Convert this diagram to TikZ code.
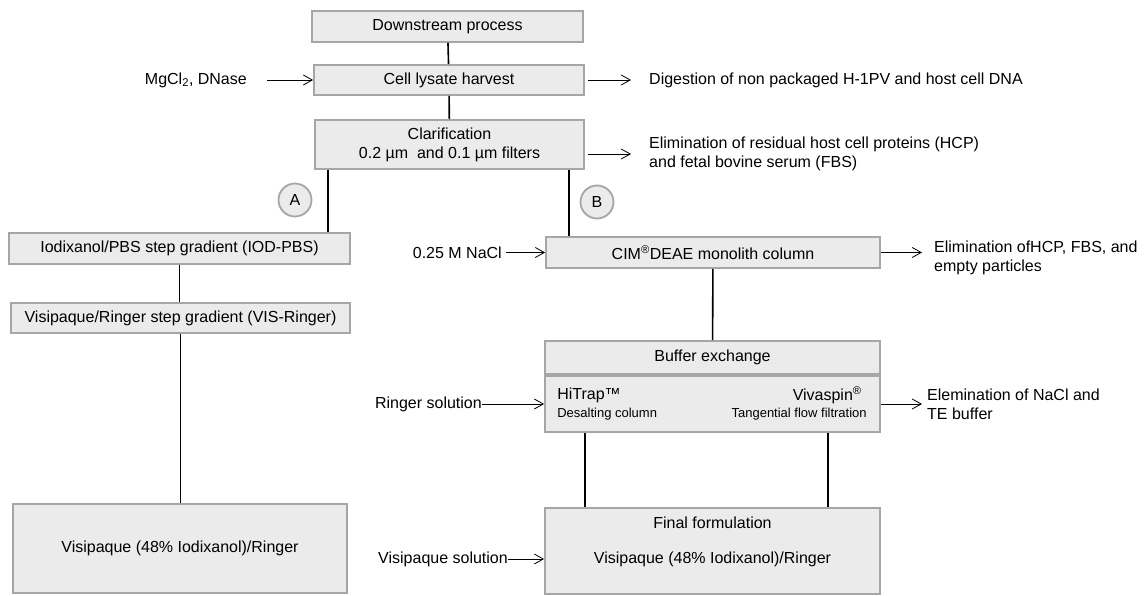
\documentclass[tikz,border=0pt]{standalone}
\usepackage{fontspec}
\setmainfont{Liberation Sans}
\usetikzlibrary{arrows.meta, calc}

\tikzset{
  stage/.style={draw=gray!70, fill=gray!16, line width=1.8pt, inner sep=0pt, align=center, font=\fontsize{16}{19}\selectfont},
  tag/.style={circle, draw=gray!70, fill=gray!16, line width=1.8pt, minimum size=33pt, inner sep=0pt, font=\fontsize{16}{19}\selectfont},
  link/.style={black, line width=1.6pt},
  feed/.style={black, line width=0.8pt, -{Straight Barb[length=9pt,width=10pt]}},
  note/.style={inner sep=0pt, align=left, font=\fontsize{16}{19}\selectfont},
  small/.style={inner sep=0pt, font=\fontsize{13}{15}\selectfont},
}

\begin{document}
\begin{tikzpicture}[x=1pt,y=-1pt]
\useasboundingbox (0,0) rectangle (1148,596);

% main line
\node[stage, minimum width=271pt, minimum height=31pt] (down) at (447.5,26.5) {Downstream process};
\node[stage, minimum width=270pt, minimum height=30pt] (harvest) at (449,80) {Cell lysate harvest};
\node[stage, minimum width=269pt, minimum height=49pt] (clar) at (449.5,144.5) {Clarification\\0.2 µm~ and 0.1 µm filters};

\draw[link] (down) -- (harvest);
\draw[link] (harvest) -- (clar);

% route A
\node[stage, minimum width=341pt, minimum height=31pt] (iod) at (179.5,248.5) {Iodixanol/PBS step gradient (IOD-PBS)};
\node[stage, minimum width=339pt, minimum height=30pt] (vis) at (180.5,318) {Visipaque/Ringer step gradient (VIS-Ringer)};
\node[stage, minimum width=334pt, minimum height=89pt] (finA) at (180,548.5) {Visipaque (48\% Iodixanol)/Ringer};
\node[tag] (A) at (295,200) {A};

\coordinate (xa) at (328,0);
\draw[link] (clar.south -| xa) -- (iod.north -| xa);
\draw[link] (iod.south) -- (iod.south |- vis.north);
\draw[link] (vis.south) -- (vis.south |- finA.north);

% route B
\node[stage, minimum width=334pt, minimum height=31pt] (cim) at (713,252.5) {CIM\textsuperscript{®}DEAE monolith column};
\node[stage, minimum width=335pt, minimum height=33pt] (buffer) at (712.5,357.5) {Buffer exchange};
\node[stage, minimum width=335pt, minimum height=56pt] (hitrap) at (712.5,404) {};
\node[stage, minimum width=335pt, minimum height=86pt] (finB) at (712.5,551) {};
\node[tag] (B) at (597,202) {B};

\node[note, anchor=west] (ht) at ($(hitrap.west)+(13,-9)$) {HiTrap™};
\node[small, anchor=west] (ds) at ($(hitrap.west)+(13,10)$) {Desalting column};
\node[note, anchor=east] (vv) at ($(hitrap.east)+(-19,-9)$) {Vivaspin\textsuperscript{®}};
\node[small, anchor=east] (tf) at ($(hitrap.east)+(-14,10)$) {Tangential flow filtration};
\node[note] (ff) at ($(finB.north)+(0,16)$) {Final formulation};
\node[note] (vr) at ($(finB.center)+(0,8)$) {Visipaque (48\% Iodixanol)/Ringer};

\coordinate (xb) at (569,0);
\coordinate (xl) at (585,0);
\coordinate (xr) at (828,0);
\draw[link] (clar.south -| xb) -- (cim.north -| xb);
\draw[link] (cim) -- (buffer);
\draw[link] (hitrap.south -| xl) -- (finB.north -| xl);
\draw[link] (hitrap.south -| xr) -- (finB.north -| xr);

% inputs
\node[note, anchor=east] (mg) at (247,80) {MgCl\textsubscript{2}, DNase};
\node[note, anchor=east] (nacl) at (502,252.5) {0.25 M NaCl};
\node[note, anchor=east] (ringer) at (482,404) {Ringer solution};
\node[note, anchor=east] (visol) at (508,559) {Visipaque solution};

\draw[feed] ([xshift=20pt]mg.east) -- (harvest.west);
\draw[feed] ([xshift=4pt]nacl.east) -- (cim.west);
\draw[feed] (ringer.east) -- (hitrap.west);
\draw[feed] (visol.east) -- (visol.east -| finB.west);

% outputs
\node[note, anchor=west] (digest) at (649,80) {Digestion of non packaged H-1PV and host cell DNA};
\node[note, anchor=west] (elim) at (649,154) {Elimination of residual host cell proteins (HCP)\\and fetal bovine serum (FBS)};
\node[note, anchor=west] (elimcim) at (934,258) {Elimination ofHCP, FBS, and\\empty particles};
\node[note, anchor=west] (elimnacl) at (927,404) {Elemination of NaCl and\\TE buffer};
\coordinate (cimtip) at ($(elimcim.west)+(-12,0)$);

\draw[feed] ([xshift=3pt]harvest.east) -- ([xshift=-18pt]digest.west);
\draw[feed] ([xshift=3pt]clar.east |- elim.west) -- ([xshift=-18pt]elim.west);
\draw[feed] (cim.east) -- (cim.east -| cimtip);
\draw[feed] (hitrap.east) -- ([xshift=-5pt]elimnacl.west);
\end{tikzpicture}
\end{document}
